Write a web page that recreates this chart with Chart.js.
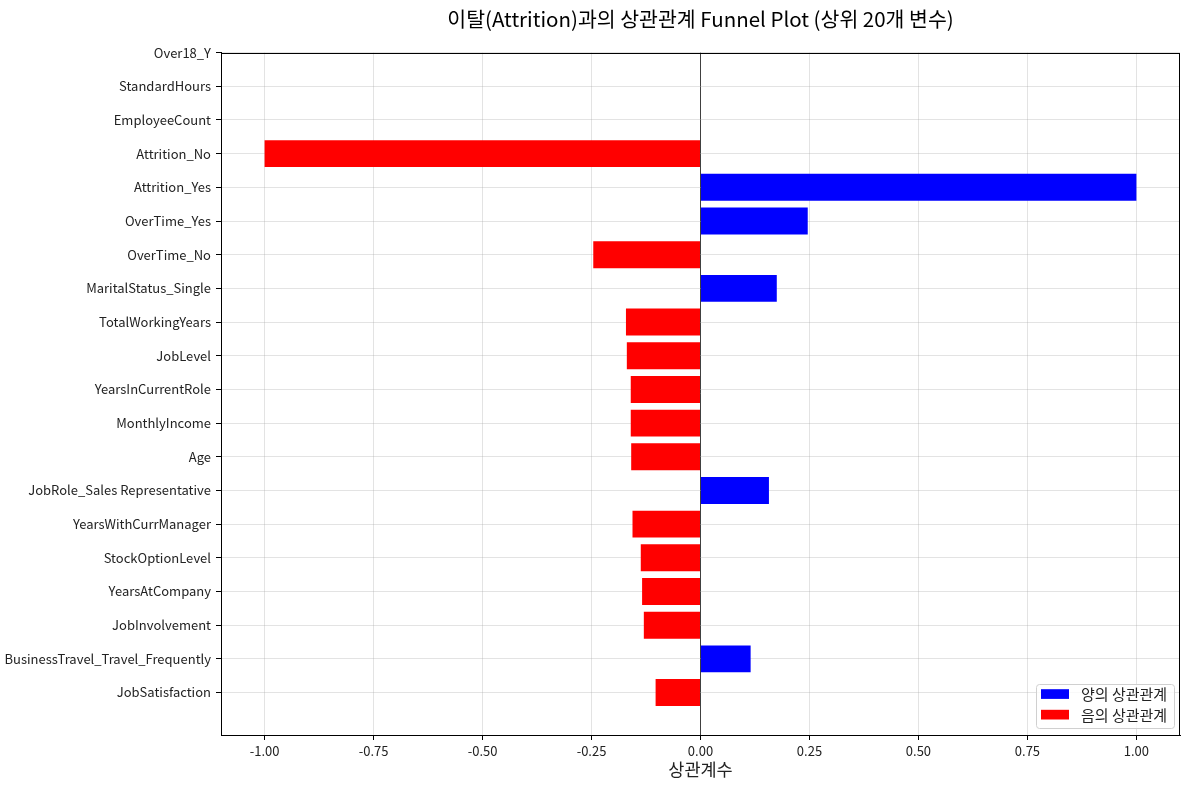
<!DOCTYPE html>
<html>
<head>
<meta charset="utf-8">
<script src="https://cdn.jsdelivr.net/npm/chart.js@4/dist/chart.umd.min.js"></script>
<style>
  html, body { margin: 0; padding: 0; background: #fff; }
  #wrap { width: 1189px; height: 789px; position: relative; }
</style>
</head>
<body>
<div id="wrap"><canvas id="c"></canvas></div>
<script>
const categories = [
  'Over18_Y', 'StandardHours', 'EmployeeCount', 'Attrition_No', 'Attrition_Yes',
  'OverTime_Yes', 'OverTime_No', 'MaritalStatus_Single', 'TotalWorkingYears', 'JobLevel',
  'YearsInCurrentRole', 'MonthlyIncome', 'Age', 'JobRole_Sales Representative', 'YearsWithCurrManager',
  'StockOptionLevel', 'YearsAtCompany', 'JobInvolvement', 'BusinessTravel_Travel_Frequently', 'JobSatisfaction'
];
const correlations = [
  null, null, null, -1.0, 1.0,
  0.246, -0.246, 0.175, -0.171, -0.169,
  -0.160, -0.160, -0.159, 0.157, -0.156,
  -0.137, -0.134, -0.130, 0.115, -0.103
];
const xTicks = [-1.0, -0.75, -0.5, -0.25, 0, 0.25, 0.5, 0.75, 1.0];
const legendLabels = ['양의 상관관계', '음의 상관관계'];
const posColor = '#0000ff';
const negColor = '#ff0000';

const FONT = "'Noto Sans CJK KR', 'Noto Sans', sans-serif";

const barColors = correlations.map(v => (v !== null && v >= 0) ? posColor : negColor);

const frameAndLegend = {
  id: 'frameAndLegend',
  afterDraw(chart) {
    const ctx = chart.ctx;
    const a = chart.chartArea;
    ctx.save();
    ctx.strokeStyle = '#000';
    ctx.lineWidth = 1;
    ctx.strokeRect(Math.round(a.left) + 0.5, Math.round(a.top) + 0.5,
                   Math.round(a.right - a.left) - 1, Math.round(a.bottom - a.top));
    // legend box, lower right inside plot
    const w = 138, h = 44;
    const x = a.right - 6 - w, y = a.bottom - 7 - h;
    ctx.beginPath();
    if (ctx.roundRect) ctx.roundRect(x + 0.5, y + 0.5, w, h, 3); else ctx.rect(x + 0.5, y + 0.5, w, h);
    ctx.fillStyle = 'rgba(255,255,255,0.8)';
    ctx.fill();
    ctx.strokeStyle = '#d0d0d0';
    ctx.stroke();
    const cols = [posColor, negColor];
    ctx.font = '15px ' + FONT;
    ctx.textBaseline = 'middle';
    ctx.textAlign = 'left';
    for (let i = 0; i < legendLabels.length; i++) {
      const cy = y + 10 + i * 20.6;
      ctx.fillStyle = cols[i];
      ctx.fillRect(x + 5, cy - 4.8, 28, 9.7);
      ctx.fillStyle = '#222';
      ctx.fillText(legendLabels[i], x + 45, cy + 0.5);
    }
    ctx.restore();
  }
};

new Chart(document.getElementById('c'), {
  type: 'bar',
  data: {
    datasets: [{
      label: '상관계수',
      data: correlations.map((v, i) => ({ x: v, y: i })),
      backgroundColor: barColors,
      borderWidth: 0,
      barPercentage: 0.8,
      categoryPercentage: 1.0
    }]
  },
  options: {
    indexAxis: 'y',
    responsive: true,
    maintainAspectRatio: false,
    animation: false,
    devicePixelRatio: 1,
    layout: { padding: { left: 0, right: 9, top: 0, bottom: 0 } },
    plugins: {
      legend: { display: false },
      tooltip: { enabled: false },
      title: {
        display: true,
        fullSize: false,
        text: '이탈(Attrition)과의 상관관계 Funnel Plot (상위 20개 변수)',
        color: '#000',
        font: { family: FONT, size: 20.5, weight: 'normal' },
        padding: { top: 7, bottom: 21 }
      }
    },
    scales: {
      x: {
        type: 'linear',
        position: 'bottom',
        min: -1.1,
        max: 1.1,
        z: 1,
        afterBuildTicks(scale) { scale.ticks = xTicks.map(v => ({ value: v })); },
        afterFit(scale) { scale.height = 54; },
        ticks: {
          callback: v => Number(v).toFixed(2),
          color: '#222',
          font: { family: FONT, size: 13 },
          padding: 3,
          maxRotation: 0
        },
        grid: {
          color: ctx => (ctx.tick && ctx.tick.value === 0) ? 'rgba(0,0,0,0.75)' : 'rgba(176,176,176,0.35)',
          lineWidth: 1,
          tickLength: 5,
          tickColor: '#000'
        },
        border: { display: true, color: '#000', width: 1 },
        title: {
          display: true,
          text: '상관계수',
          color: '#222',
          font: { family: FONT, size: 17.5 },
          padding: { top: 0, bottom: 9 }
        }
      },
      y: {
        type: 'linear',
        reverse: true,
        offset: false,
        min: 0,
        max: 20.26,
        z: 1,
        afterBuildTicks(scale) { scale.ticks = categories.map((_, i) => ({ value: i })); },
        afterFit(scale) { scale.width = 221; },
        ticks: {
          callback: (v) => categories[v] !== undefined ? categories[v] : '',
          color: '#222',
          font: { family: FONT, size: 13 },
          padding: 5,
          autoSkip: false
        },
        grid: {
          offset: false,
          color: 'rgba(176,176,176,0.35)',
          lineWidth: 1,
          tickLength: 5,
          tickColor: '#000'
        },
        border: { display: true, color: '#000', width: 1 }
      }
    }
  },
  plugins: [frameAndLegend]
});
</script>
</body>
</html>
